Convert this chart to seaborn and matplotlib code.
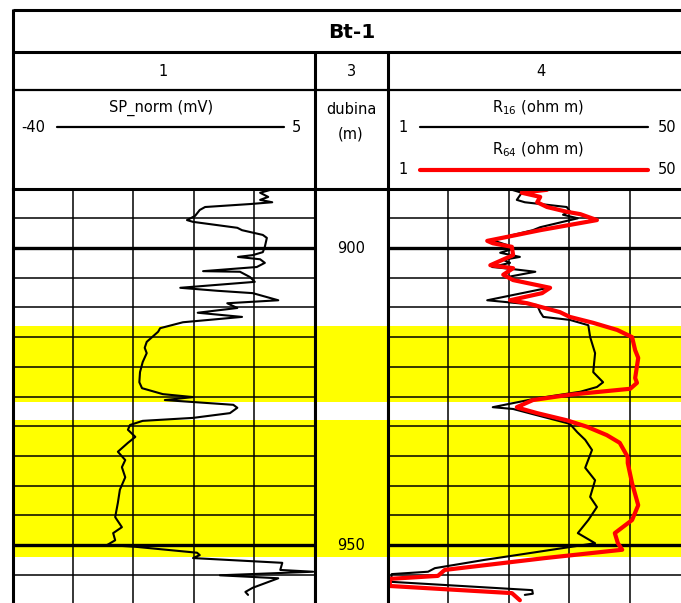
import numpy as np
import matplotlib
matplotlib.use("Agg")
import matplotlib.pyplot as plt
import seaborn as sns

WELL_NAME = "Bt-1"
TRACK_NUMBERS = ["1", "3", "4"]

DEPTH_TOP = 890
DEPTH_BASE = 960
DEPTH_LABELS = [900, 950]

# sand intervals (yellow)
SAND_TOPS = [913.1, 929.0]
SAND_BASES = [926.0, 952.0]

SP_RANGE = (-40, 5)
RES_RANGE = (1, 50)

SP_DEPTH = [890.1, 890.7, 891.4, 891.9, 892.3, 892.6, 893.1, 893.6, 894.6, 895.3,
            895.6, 896.6, 897.0, 897.8, 898.3, 899.8, 900.7, 901.2, 901.5, 901.9,
            902.5, 903.2, 903.9, 904.0, 904.9, 905.7, 906.7, 907.2, 907.6, 908.8,
            909.3, 910.1, 910.9, 911.6, 912.5, 913.5, 914.1, 915.0, 915.8, 916.8,
            917.7, 919.2, 920.9, 922.6, 923.6, 924.6, 925.1, 925.6, 926.4, 926.9,
            927.8, 928.6, 929.1, 929.8, 930.6, 931.8, 932.8, 934.3, 935.7, 936.9,
            938.6, 940.7, 942.9, 945.3, 947.0, 948.0, 949.2, 950.0, 950.3, 951.3,
            951.7, 952.2, 953.0, 954.2, 954.5, 955.1, 955.6, 957.2, 957.9, 958.4]
SP_VALUES = [-1.2, -3.1, -1.9, -3.1, -1.3, -4.6, -11.3, -12.1, -12.8, -14.0,
             -13.1, -6.5, -5.8, -2.7, -2.1, -2.4, -2.7, -4.2, -6.4, -3.1,
             -2.4, -3.6, -11.6, -6.1, -4.6, -3.9, -15.0, -9.5, -4.2, -0.4,
             -8.0, -6.5, -12.4, -5.8, -14.6, -18.0, -18.3, -19.2, -20.0, -20.3,
             -20.0, -20.6, -21.0, -21.1, -20.7, -17.6, -13.1, -17.3, -7.1, -6.5,
             -7.6, -13.1, -20.6, -22.5, -22.8, -21.7, -22.8, -24.3, -23.2, -23.7,
             -23.2, -24.0, -24.3, -24.7, -23.7, -25.0, -24.7, -25.9, -21.7, -12.5,
             -12.1, -13.1, 0.2, -0.1, 4.8, -9.1, -0.4, -4.2, -5.3, -4.9]

R16_DEPTH = [890.2, 890.7, 891.9, 892.3, 893.1, 893.8, 894.4, 895.0, 896.5, 897.0,
             897.8, 898.7, 899.5, 900.3, 900.8, 901.5, 902.0, 902.5, 903.2, 903.5,
             904.0, 904.9, 905.9, 906.7, 908.8, 909.6, 910.8, 911.6, 912.1, 913.0,
             915.0, 917.7, 920.9, 922.6, 923.4, 924.2, 925.3, 926.8, 927.1, 929.6,
             931.0, 932.3, 934.0, 937.0, 939.1, 941.9, 943.6, 945.8, 948.0, 949.7,
             951.3, 952.5, 953.9, 954.5, 954.9, 956.2, 957.6, 958.2, 958.4]
R16_VALUES = [21.1, 22.7, 21.9, 23.2, 30.0, 30.5, 29.4, 31.8, 25.7, 24.5,
              21.3, 18.0, 20.3, 20.8, 19.2, 22.4, 19.7, 20.8, 17.9, 20.8,
              24.9, 20.3, 23.6, 27.0, 17.1, 25.2, 25.7, 26.2, 30.5, 33.5,
              33.8, 34.6, 34.3, 35.9, 34.9, 32.2, 25.2, 18.0, 21.3, 30.5,
              31.7, 33.0, 34.1, 33.0, 34.6, 33.8, 34.9, 33.5, 31.8, 34.6,
              24.4, 16.7, 8.6, 7.5, 1.6, 1.5, 24.4, 24.5, 23.2]

R64_DEPTH = [890.2, 890.7, 891.4, 892.3, 893.1, 893.9, 894.3, 895.3, 895.8, 897.0,
             897.8, 898.8, 899.2, 899.8, 901.2, 902.9, 903.4, 904.5, 905.4, 905.9,
             906.7, 907.6, 908.8, 909.3, 910.8, 911.6, 912.6, 913.8, 915.0, 917.2,
             918.5, 921.9, 922.7, 923.7, 924.7, 925.3, 925.6, 926.8, 926.9, 927.8,
             929.0, 930.1, 931.5, 932.8, 935.2, 936.2, 939.6, 943.3, 945.8, 948.0,
             949.7, 950.8, 952.2, 954.2, 955.2, 955.7, 956.9, 958.1, 959.3]
R64_VALUES = [26.8, 22.7, 25.7, 25.2, 26.8, 30.0, 32.2, 34.9, 32.2, 25.7,
              21.9, 17.1, 18.0, 21.1, 21.3, 17.6, 21.3, 19.7, 21.3, 23.6,
              27.3, 26.0, 20.8, 23.6, 28.9, 30.5, 34.3, 38.2, 40.6, 41.1,
              41.6, 41.1, 41.4, 40.3, 30.5, 26.5, 24.5, 21.9, 22.1, 25.2,
              30.0, 33.3, 36.5, 38.6, 39.9, 39.9, 40.6, 41.6, 40.6, 37.8,
              38.3, 39.0, 26.5, 10.2, 9.1, 1.3, 1.3, 21.1, 22.4]

W, H = 681, 603
YELLOW = "#ffff00"
FS = 10.5


def box(x0, x1, y0, y1):
    # pixel box -> figure fraction [left, bottom, width, height]
    return [x0 / W, 1 - y1 / H, (x1 - x0) / W, (y1 - y0) / H]


def style_track(ax, xlim, gridded=True):
    ax.set_xlim(*xlim)
    ax.set_ylim(DEPTH_BASE, DEPTH_TOP)
    ax.set_facecolor("white")
    for top, base in zip(SAND_TOPS, SAND_BASES):
        ax.axhspan(top, base, color=YELLOW, lw=0, zorder=0)
    if gridded:
        ax.set_xticks(np.linspace(xlim[0], xlim[1], 6))
        ax.set_yticks(np.arange(DEPTH_TOP, DEPTH_BASE + 1, 5))
        ax.grid(True, color="black", lw=1.1)
        for d in DEPTH_LABELS:
            ax.axhline(d, color="black", lw=2.4, zorder=1)
    else:
        ax.set_xticks([])
        ax.set_yticks([])
        ax.grid(False)
    ax.tick_params(length=0, labelbottom=False, labelleft=False)
    ax.set_xlabel("")
    ax.set_ylabel("")
    for s in ax.spines.values():
        s.set_visible(True)
        s.set_color("black")
        s.set_linewidth(2.2)


def main() -> None:
    sns.set_theme(style="white")
    plt.rcParams["font.family"] = ["DejaVu Sans"]
    plt.rcParams["text.color"] = "black"

    fig = plt.figure(figsize=(W / 100, H / 100), dpi=100)

    # header drawn in pixel coordinates
    hd = fig.add_axes([0, 0, 1, 1])
    hd.set_xlim(0, W)
    hd.set_ylim(H, 0)
    hd.axis("off")
    x_l, x_1, x_3, x_r = 12.5, 314.5, 388, 693
    hd.hlines([10, 52], x_l, x_r, color="black", lw=2.2)
    hd.hlines(90, x_l, x_r, color="black", lw=1.6)
    hd.vlines(x_l, 9, 190, color="black", lw=2.2)
    hd.vlines([x_1, x_3], 52, 190, color="black", lw=2.2)

    hd.text(352, 33, WELL_NAME, ha="center", va="center", fontsize=14.5, fontweight="bold")
    for cx, label in zip([(x_l + x_1) / 2, (x_1 + x_3) / 2, (x_3 + x_r) / 2], TRACK_NUMBERS):
        hd.text(cx, 72, label, ha="center", va="center", fontsize=FS)

    hd.text(161, 108, "SP_norm (mV)", ha="center", va="center", fontsize=FS)
    hd.text(33, 127, f"{SP_RANGE[0]}", ha="center", va="center", fontsize=FS)
    hd.text(296, 127, f"{SP_RANGE[1]}", ha="center", va="center", fontsize=FS)
    hd.plot([57, 284], [127, 127], color="black", lw=1.6)

    hd.text(351, 110, "dubina", ha="center", va="center", fontsize=FS)
    hd.text(351, 134, "(m)", ha="center", va="center", fontsize=FS)

    hd.text(538, 108, r"R$_{16}$ (ohm m)", ha="center", va="center", fontsize=FS)
    hd.text(403, 127, f"{RES_RANGE[0]}", ha="center", va="center", fontsize=FS)
    hd.text(667, 127, f"{RES_RANGE[1]}", ha="center", va="center", fontsize=FS)
    hd.plot([420, 648], [127, 127], color="black", lw=1.6)

    hd.text(538, 150, r"R$_{64}$ (ohm m)", ha="center", va="center", fontsize=FS)
    hd.text(403, 170, f"{RES_RANGE[0]}", ha="center", va="center", fontsize=FS)
    hd.text(667, 170, f"{RES_RANGE[1]}", ha="center", va="center", fontsize=FS)
    hd.plot([420, 648], [170, 170], color="red", lw=3.0)

    y_top = 188.6
    y_bot = y_top + (DEPTH_BASE - DEPTH_TOP) * 5.94

    ax_sp = fig.add_axes(box(x_l, x_1, y_top, y_bot))
    style_track(ax_sp, SP_RANGE)
    sns.lineplot(x=SP_VALUES, y=SP_DEPTH, sort=False, estimator=None,
                 color="black", lw=1.5, ax=ax_sp)
    ax_sp.set_ylim(DEPTH_BASE, DEPTH_TOP)

    ax_d = fig.add_axes(box(x_1, x_3, y_top, y_bot))
    style_track(ax_d, (0, 1), gridded=False)
    for d in DEPTH_LABELS:
        ax_d.text(0.5, d, str(d), transform=ax_d.get_yaxis_transform(),
                  ha="center", va="center", fontsize=FS)

    ax_r = fig.add_axes(box(x_3, x_r - 3, y_top, y_bot))
    style_track(ax_r, RES_RANGE)
    sns.lineplot(x=R16_VALUES, y=R16_DEPTH, sort=False, estimator=None,
                 color="black", lw=1.5, ax=ax_r)
    sns.lineplot(x=R64_VALUES, y=R64_DEPTH, sort=False, estimator=None,
                 color="red", lw=3.0, ax=ax_r)
    ax_r.set_ylim(DEPTH_BASE, DEPTH_TOP)

    fig.savefig("out.png", dpi=100)
    plt.close(fig)


if __name__ == "__main__":
    main()
